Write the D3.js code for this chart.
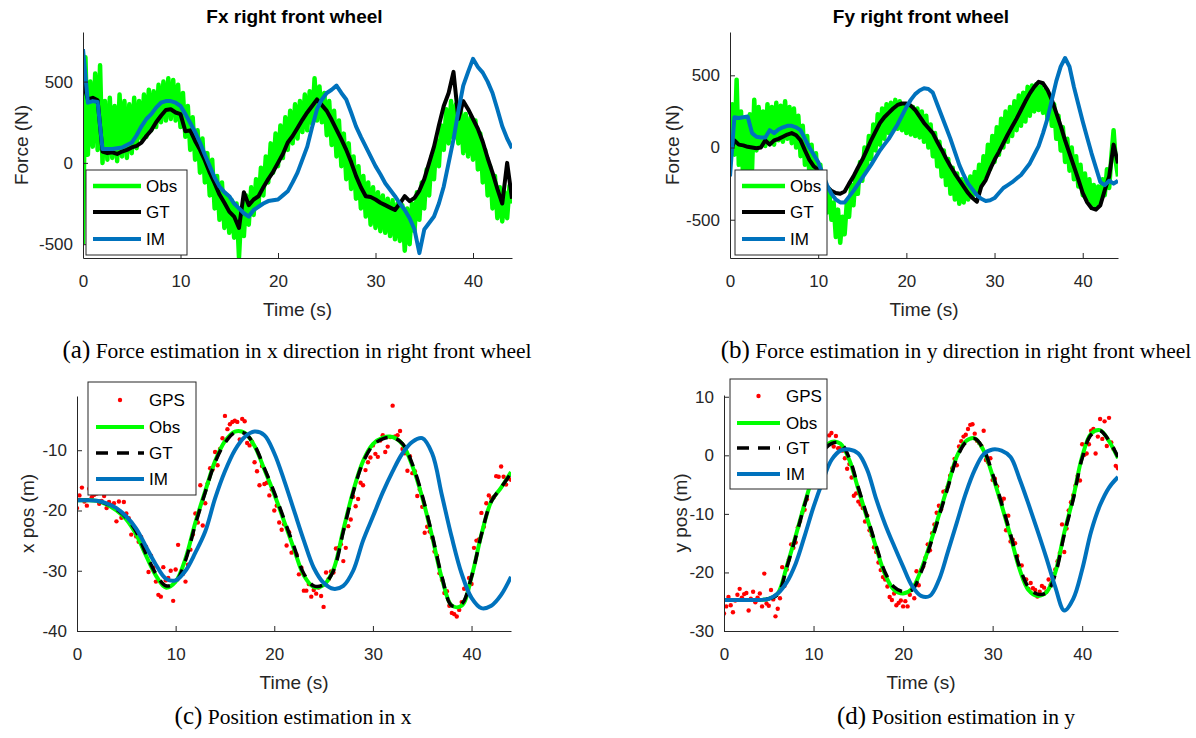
<!DOCTYPE html>
<html>
<head>
<meta charset="utf-8">
<script src="https://cdn.jsdelivr.net/npm/d3@7"></script>
<style>
  body { margin: 0; background: #fff; }
</style>
</head>
<body>
<svg id="fig" width="1196" height="738"></svg>
<script>
// ---- data ----
const tQuarter = d3.range(0, 44.001, 0.25);   // 177 samples
const tHalf = d3.range(0, 44.001, 0.5);       // 89 samples
const tSec = d3.range(0, 45, 1);              // 45 samples

const xTicks = [0, 10, 20, 30, 40];

// (a) Fx right front wheel
const fxObs = [
  -500, 650, 50, 500,   100, 550, 80, 600,    0, 380, 20, 400,     30, 350, 10, 420,
  40, 380, 30, 360,     60, 400, 90, 380,     150, 420, 160, 450,  200, 440, 220, 480,
  250, 500, 260, 520,   270, 510, 260, 480,   220, 430, 160, 350,  80, 280, 20, 200,
  -60, 150, -120, 60,   -200, 20, -280, -80,  -350, -120, -400, -200, -430, -230, -460, -250,
  -580, -280, -450, -200, -380, -150, -320, -100, -260, -30, -200, 40, -120, 120, -60, 180,
  -20, 230, 30, 280,    80, 320, 120, 360,    150, 380, 190, 420,  200, 440, 240, 520,
  260, 470, 250, 430,   170, 380, 110, 320,   40, 260, -20, 180,   -100, 120, -160, 40,
  -220, -20, -280, -80, -330, -120, -380, -150, -400, -180, -420, -200, -430, -220, -450, -230,
  -470, -250, -480, -260, -540, -280, -500, -250, -420, -180, -350, -120, -280, -40, -200, 40,
  -100, 140, -20, 230,  80, 330, 120, 380,    150, 360, 120, 330,  60, 300, 40, 280,
  20, 260, -40, 180,    -120, 80, -200, -20,  -280, -80, -340, -150, -360, -180, -340, -140,
  -250
];
const fxGT = [
  500, 390, 400, 385,   70, 60, 65, 55,       70, 80, 95, 105,     125, 165, 200, 250,
  290, 325, 330, 310,   300, 195, 200, 135,   80, 15, -60, -125,   -195, -245, -300, -330,
  -400, -180, -260, -225, -205, -150, -100, -55, 0, 55, 125, 165,  215, 265, 310, 350,
  390, 355, 320, 265,   205, 145, 80, 5,      -80, -150, -205, -210, -225, -245, -260, -275,
  -290, -250, -205, -235, -215, -170, -100, 0, 100, 230, 350, 430,  560, 270, 380, 330,
  270, 210, 130, 30,    -60, -160, -250, 0,   -220
];
const fxIM = [
  700, 370, 380, 375,   85, 85, 85, 90,       95, 110, 125, 170,   225, 270, 300, 340,
  370, 380, 380, 370,   350, 300, 245, 190,   125, 50, -20, -90,    -145, -180, -205, -250,
  -280, -310, -330, -290, -270, -250, -235, -230, -225, -200, -175, -120, -60, 20, 100, 220,
  330, 390, 430, 450,   475, 430, 390, 310,   225, 160, 100, 40,    -20, -70, -125, -165,
  -205, -250, -290, -340, -410, -555, -410, -370, -330, -250, -145, 0, 145, 320, 475, 560,
  640, 590, 555, 500,   430, 330, 225, 150,   90
];

// (b) Fy right front wheel
const fyObs = [
  -100, 300, -50, 470,  -120, 250, -250, 200, -200, 230, -150, 330, -20, 280, 20, 250,
  10, 300, 30, 280,     20, 310, 50, 290,     40, 320, 60, 280,     30, 270, 0, 220,
  -60, 150, -120, 80,   -180, 20, -220, -40,  -300, -120, -380, -220, -450, -300, -500, -380,
  -620, -430, -660, -480, -600, -380, -480, -260, -400, -180, -320, -100, -230, 0, -150, 80,
  -80, 160, -20, 230,   20, 270, 60, 300,     100, 310, 120, 330,   130, 320, 120, 300,
  100, 290, 90, 280,    80, 270, 70, 250,     40, 220, 0, 160,      -60, 100, -130, 40,
  -200, -20, -260, -80, -320, -140, -360, -180, -390, -220, -380, -230, -360, -200, -340, -170,
  -300, -120, -260, -60, -200, 20, -150, 80,  -100, 140, -50, 200,  0, 250, 40, 280,
  80, 320, 120, 360,    150, 380, 180, 420,   220, 430, 250, 440,   260, 420, 240, 400,
  200, 360, 150, 300,   60, 220, -20, 140,    -100, 60, -160, 0,    -220, -60, -270, -120,
  -330, -180, -360, -220, -400, -260, -410, -270, -380, -220, -330, -150, -280, -60, 120, -100,
  -200
];
const fyGT = [
  -50, 50, 20, 15,      5, 0, -5, 0,          50, 20, 50, 60,       75, 90, 100, 85,
  50, -20, -85, -130,   -155, -220, -270, -300, -315, -320, -305, -250, -200, -140, -85, -20,
  50, 110, 170, 210,    240, 270, 295, 305,   305, 290, 260, 215,   170, 135, 100, 40,
  -15, -75, -130, -180, -225, -270, -315, -350, -375, -270, -225, -150, -85, -30, 30, 90,
  145, 200, 260, 320,   375, 420, 455, 445,   400, 330, 240, 150,   50, -40, -130, -220,
  -315, -380, -420, -430, -400, -295, -200, 20, -110
];
const fyIM = [
  -200, 210, 205, 210,  215, 100, 75, 70,     70, 120, 100, 125,    140, 150, 150, 140,
  120, 60, 0, -50,      -100, -180, -260, -320, -360, -380, -380, -340, -300, -255, -210, -165,
  -120, -70, -20, 20,   60, 110, 160, 220,    280, 330, 370, 395,   410, 405, 380, 300,
  220, 140, 60, -30,    -120, -190, -250, -290, -330, -355, -370, -365, -350, -315, -280, -260,
  -240, -215, -190, -150, -110, -50, 10, 100, 200, 330, 460, 560,   620, 560, 420, 300,
  180, 70, -40, -140,   -240, -260, -230, -250, -230
];

// (c) Position in x
const xGPS = [
  -19.6, -17.5, -16.2, -18.5, -19.2, -16.4, -17.8, -17.4, -17.2, -18.9, -18.4, -17.6,
  -19.6, -18.6, -19.1, -18.8, -21.8, -18.5, -21.2, -18.6, -20.5, -21.3, -24, -22.8,
  -24.3, -25.2, -24.4, -25.8, -26, -30.2, -27.5, -29.5, -31.8, -34, -34.3, -29.4,
  -31.6, -31.2, -30, -35, -29.8, -25.7, -30.7, -30.5, -31.8, -29, -26.5, -24,
  -20.5, -22, -15.8, -22.5, -18.8, -15.5, -13, -13.2, -10.3, -12.5, -9.8, -8,
  -4.3, -6.5, -5.7, -5.3, -5.1, -5.3, -8.2, -4.8, -5.2, -8.8, -9.2, -8.6,
  -12, -13.5, -15.8, -12.6, -15.6, -15.4, -17.5, -16.5, -20, -19.2, -22, -23.2,
  -22.3, -25.8, -23.6, -27, -26.7, -27.3, -30.6, -29.5, -33.3, -33.3, -32.2, -34.3,
  -33.2, -33.8, -32.8, -34.2, -36, -30.3, -31.4, -30.1, -30.3, -26.3, -26.2, -25.6,
  -28.4, -26.2, -22.6, -21.5, -17.7, -19.3, -18.1, -15.4, -15.8, -13.3, -12, -11.2,
  -9.2, -10.6, -11.1, -8.4, -7.5, -10.3, -9.4, -7.8, -2.6, -7.7, -7.5, -6.8,
  -9.8, -10.5, -13.4, -11, -13.8, -13.5, -17.6, -16.5, -19.4, -23.7, -22.7, -23.5,
  -24.5, -26.8, -27.5, -30.4, -31.5, -33.7, -33.4, -35.8, -37, -37.2, -37.6, -36.5,
  -35.2, -33, -32.8, -31.2, -32.2, -26.2, -25, -24.8, -20.4, -22.7, -18.8, -17.5,
  -18, -17.8, -14.3, -14.4, -12.7, -14.4, -15.7, -14.7, -14.9
];
const xObs = [
  -18.3, -18.3, -18.4, -19, -20, -21.5, -24, -27.5, -30.8, -32.8, -31.8, -28, -22,
  -16.8, -11.8, -8.5, -6.9, -7.1, -9.3, -13.2, -17.3, -21.8, -26.4, -30.8, -32.7,
  -32.4, -29.8, -23.2, -16.8, -11.8, -9, -7.9, -7.8, -9, -12.6, -17.8, -24.3, -31.3,
  -35.8, -35.8, -31, -24, -18.5, -16.2, -13.6
];
const xGT = [
  -18.3, -18.3, -18.4, -18.9, -19.8, -21.2, -23.5, -27.2, -30.5, -32.5, -31.9, -28.3, -22.3,
  -17, -12, -8.8, -7.1, -7.2, -9.2, -13, -17, -21.5, -26, -30.5, -32.5,
  -32.3, -30, -23.5, -17, -12, -9.2, -8.1, -7.9, -8.9, -12.3, -17.5, -24, -31,
  -35.8, -35.5, -31, -24, -18.5, -16.2, -13.8
];
const xIM = [
  -18.3, -18.3, -18.4, -18.8, -19.6, -21, -23, -26, -29, -31.3, -31.6, -30, -27,
  -23.5, -18, -13.5, -10, -7.8, -6.9, -7.5, -10.5, -15, -20, -25, -29.5,
  -32, -33, -32.5, -30, -25, -21, -17, -13.5, -10.5, -8.6, -8, -10.5, -17.5,
  -24.5, -30.5, -34.5, -36.2, -35.8, -34, -31
];

// (d) Position in y
const yGPS = [
  -27, -25.8, -24.2, -25.6, -26.8, -24.8, -23.8, -22.8, -24.3, -23.7, -23.5, -26.5,
  -24.5, -23.3, -25.1, -24.3, -23.6, -25.8, -20.2, -25.3, -25.7, -23, -24.6, -27.5,
  -26.2, -24.4, -19.1, -22.3, -19.5, -17.8, -15.2, -15.8, -14.9, -12.3, -11.2, -9.8,
  -9.3, -7.5, -4.8, -5.2, -3.3, -1.3, -0.8, 1.3, 0.6, 2.5, 1.8, 3.4,
  3.8, 1.5, 3.3, 1.2, 1.2, 0.8, -0.5, -2.3, -1.5, -3.8, -6.9, -6.5,
  -7.9, -8.4, -9, -11.3, -10.3, -12.8, -13.6, -15.7, -16.5, -18.3, -19.6, -20.8,
  -21.2, -22.4, -24.2, -24.7, -23.6, -25.6, -25.2, -24.8, -25.8, -24.9, -25.8, -23.8,
  -22.8, -24.4, -19.8, -22.2, -19.6, -19, -17.5, -15.2, -16.2, -13.3, -11.8, -9.8,
  -8.6, -9.2, -6.2, -6.1, -5.3, -3.5, -2.2, -0.6, -1.7, 1.5, 2.4, 3.2,
  3.5, 4.5, 5.2, 5.3, 3.7, 2.5, 2.1, 1.6, 4.2, -0.8, -1.2, -0.5,
  -4.2, -4, -5.3, -7.1, -7.9, -7.4, -12.8, -10.3, -14.7, -14.4, -15, -17.2,
  -19, -18.8, -21.1, -21.2, -22.8, -21.8, -22.7, -23, -24.1, -23.3, -22.3, -22.6,
  -23.3, -21.2, -22, -20.3, -19.5, -18.1, -16.7, -11.8, -16.5, -12.5, -9.4, -8,
  -6.8, -5.2, -3.5, -4.3, 1.9, 0.1, 0.3, 1.9, 4.2, 4.5, 0.3, 3.2,
  6.2, 2.8, 5.8, 1.6, 6.4, 2.2, 1.1, -1.8, -2.2
];
const yObs = [
  -24.7, -24.7, -24.7, -24.7, -24.7, -24.5, -23.6, -19, -13.8, -8.3, -3.2, 0.8, 2.3,
  2, -0.8, -5.8, -10.8, -15.8, -20.4, -23, -23.6, -22.8, -19.6, -15.2, -10.2,
  -5.2, -0.2, 2.4, 2.9, 0.8, -3.5, -8.5, -13.8, -19.4, -23, -24, -23.4, -20,
  -13.2, -7.2, -0.2, 3.7, 4.3, 2.4, -0.5
];
const yGT = [
  -24.7, -24.7, -24.7, -24.7, -24.7, -24.5, -23.8, -19.2, -14, -8.5, -3.5, 0.5, 2,
  2.1, -0.5, -5.5, -10.5, -15.5, -20, -22.5, -23.3, -23, -20, -15.5, -10.5,
  -5.5, -0.5, 2.2, 2.85, 1, -3.2, -8.2, -13.5, -19, -22.5, -23.7, -23.5, -20.3,
  -13.5, -7.5, -0.5, 3.5, 4.2, 2.5, -0.3
];
const yIM = [
  -24.7, -24.7, -24.7, -24.7, -24.7, -24.5, -23.6, -21.7, -18.5, -13.8, -8.8, -4.5, -0.8,
  0.8, 1, 0.3, -2.5, -7.5, -11.8, -15.5, -19, -22.3, -24, -24, -21.3,
  -16.5, -11.5, -6.5, -2.5, 0.2, 1, 0.8, -0.3, -4, -8.3, -12.8, -17.5, -22.5,
  -26.5, -24.5, -19.5, -13, -8.5, -5.5, -3.7
];

// ---- drawing ----
const svg = d3.select('#fig');
const sans = '"Liberation Sans", Arial, Helvetica, sans-serif';
const serif = '"Liberation Serif", "Times New Roman", serif';
const axisColor = '#262626';
const GREEN = '#00ff00', BLACK = '#000000', BLUE = '#0072bd', RED = '#ff0000';

svg.append('rect').attr('width', 1196).attr('height', 738).attr('fill', '#fff');

function drawPanel(p) {
  const x = d3.scaleLinear().domain([0, 44]).range([p.left, p.right]);
  const y = d3.scaleLinear().domain(p.yDomain).range([p.bottom, p.top]);
  const g = svg.append('g');

  g.append('clipPath').attr('id', 'clip-' + p.id)
    .append('rect')
    .attr('x', p.left).attr('y', p.top)
    .attr('width', p.right - p.left).attr('height', p.bottom - p.top);

  const plot = g.append('g').attr('clip-path', `url(#clip-${p.id})`);

  p.series.forEach(s => {
    if (s.type === 'dots') {
      plot.append('g').selectAll('circle')
        .data(s.values)
        .join('circle')
        .attr('cx', (d, i) => x(s.t[i]))
        .attr('cy', d => y(d))
        .attr('r', 2.2)
        .attr('fill', s.color);
    } else {
      const line = d3.line()
        .x((d, i) => x(s.t[i]))
        .y(d => y(d))
        .curve(s.curve || d3.curveLinear);
      plot.append('path')
        .datum(s.values)
        .attr('d', line)
        .attr('fill', 'none')
        .attr('stroke', s.color)
        .attr('stroke-width', s.width || 4)
        .attr('stroke-linejoin', 'round')
        .attr('stroke-dasharray', s.dash || null);
    }
  });

  // axes, ticks pointing inward like matlab
  const xAxis = g.append('g')
    .attr('transform', `translate(0,${p.bottom})`)
    .call(d3.axisBottom(x).tickValues(xTicks).tickFormat(d => String(d))
      .tickSizeInner(-5).tickSizeOuter(0).tickPadding(17));
  const yAxis = g.append('g')
    .attr('transform', `translate(${p.left},0)`)
    .call(d3.axisLeft(y).tickValues(p.yTicks).tickFormat(d => String(d))
      .tickSizeInner(-5).tickSizeOuter(0).tickPadding(10));

  [xAxis, yAxis].forEach(a => {
    a.select('.domain').attr('stroke', axisColor).attr('stroke-width', 1);
    a.selectAll('.tick line').attr('stroke', axisColor).attr('stroke-width', 1);
    a.selectAll('.tick text')
      .attr('fill', axisColor)
      .style('font-family', sans)
      .style('font-size', '17px');
  });

  if (p.title) {
    g.append('text')
      .attr('x', (p.left + p.right) / 2 - 3).attr('y', 23)
      .attr('text-anchor', 'middle')
      .style('font-family', sans).style('font-size', '19px').style('font-weight', 'bold')
      .attr('fill', '#000')
      .text(p.title);
  }

  g.append('text')
    .attr('x', (p.left + p.right) / 2).attr('y', p.bottom + 58)
    .attr('text-anchor', 'middle')
    .style('font-family', sans).style('font-size', '19px')
    .attr('fill', axisColor)
    .text('Time (s)');

  g.append('text')
    .attr('transform', `translate(${p.yLabelX},${(p.top + p.bottom) / 2}) rotate(-90)`)
    .attr('text-anchor', 'middle')
    .attr('dy', '0.35em')
    .style('font-family', sans).style('font-size', '19px')
    .attr('fill', axisColor)
    .text(p.yLabel);

  // legend
  const L = p.legend;
  const lg = g.append('g');
  lg.append('rect')
    .attr('x', L.x0).attr('y', L.y0)
    .attr('width', L.x1 - L.x0).attr('height', L.y1 - L.y0)
    .attr('fill', '#fff').attr('stroke', axisColor).attr('stroke-width', 1);
  p.series.forEach((s, i) => {
    const cy = L.rows[i];
    if (s.type === 'dots') {
      lg.append('circle')
        .attr('cx', (L.s0 + L.s1) / 2).attr('cy', cy).attr('r', 2.2).attr('fill', s.color);
    } else {
      lg.append('line')
        .attr('x1', L.s0).attr('x2', L.s1).attr('y1', cy).attr('y2', cy)
        .attr('stroke', s.color).attr('stroke-width', s.width || 4)
        .attr('stroke-dasharray', s.dash || null);
    }
    lg.append('text')
      .attr('x', L.tx).attr('y', cy).attr('dy', '0.35em')
      .style('font-family', sans).style('font-size', '17px')
      .attr('fill', '#000')
      .text(s.name);
  });

  // caption under the panel
  const cap = svg.append('text')
    .attr('x', p.capX).attr('y', p.capY)
    .attr('text-anchor', 'middle')
    .style('font-family', serif).attr('fill', '#000');
  cap.append('tspan').style('font-size', '25px').text(p.capTag);
  cap.append('tspan').style('font-size', '21.5px').text(' ' + p.caption);
}

drawPanel({
  id: 'a', left: 83, right: 512, top: 32, bottom: 258,
  yDomain: [-585, 805], yTicks: [-500, 0, 500],
  title: 'Fx right front wheel', yLabel: 'Force (N)', yLabelX: 21,
  series: [
    { name: 'Obs', t: tQuarter, values: fxObs, color: GREEN, width: 4.5 },
    { name: 'GT', t: tHalf, values: fxGT, color: BLACK, width: 4 },
    { name: 'IM', t: tHalf, values: fxIM, color: BLUE, width: 4 }
  ],
  legend: { x0: 86, x1: 187, y0: 170, y1: 255, rows: [186, 212, 239], s0: 93, s1: 141, tx: 146 },
  capX: 297, capY: 358, capTag: '(a)', caption: 'Force estimation in x direction in right front wheel'
});

drawPanel({
  id: 'b', left: 730, right: 1118, top: 32, bottom: 258,
  yDomain: [-765, 800], yTicks: [-500, 0, 500],
  title: 'Fy right front wheel', yLabel: 'Force (N)', yLabelX: 672,
  series: [
    { name: 'Obs', t: tQuarter, values: fyObs, color: GREEN, width: 4.5 },
    { name: 'GT', t: tHalf, values: fyGT, color: BLACK, width: 4 },
    { name: 'IM', t: tHalf, values: fyIM, color: BLUE, width: 4 }
  ],
  legend: { x0: 735, x1: 827, y0: 170, y1: 255, rows: [186, 212, 239], s0: 742, s1: 785, tx: 790 },
  capX: 956, capY: 358, capTag: '(b)', caption: 'Force estimation in y direction in right front wheel'
});

drawPanel({
  id: 'c', left: 77, right: 511, top: 396, bottom: 631,
  yDomain: [-40, -1], yTicks: [-40, -30, -20, -10],
  yLabel: 'x pos (m)', yLabelX: 27,
  series: [
    { name: 'GPS', type: 'dots', t: tQuarter, values: xGPS, color: RED },
    { name: 'Obs', t: tSec, values: xObs, color: GREEN, width: 4, curve: d3.curveCatmullRom },
    { name: 'GT', t: tSec, values: xGT, color: BLACK, width: 3.5, dash: '12,9', curve: d3.curveCatmullRom },
    { name: 'IM', t: tSec, values: xIM, color: BLUE, width: 4, curve: d3.curveCatmullRom }
  ],
  legend: { x0: 88, x1: 196, y0: 382, y1: 495, rows: [400, 427, 453, 479], s0: 96, s1: 144, tx: 149 },
  capX: 293, capY: 724, capTag: '(c)', caption: 'Position estimation in x'
});

drawPanel({
  id: 'd', left: 724, right: 1118, top: 395, bottom: 631,
  yDomain: [-30, 10.3], yTicks: [-30, -20, -10, 0, 10],
  yLabel: 'y pos (m)', yLabelX: 680,
  series: [
    { name: 'GPS', type: 'dots', t: tQuarter, values: yGPS, color: RED },
    { name: 'Obs', t: tSec, values: yObs, color: GREEN, width: 4, curve: d3.curveCatmullRom },
    { name: 'GT', t: tSec, values: yGT, color: BLACK, width: 3.5, dash: '12,9', curve: d3.curveCatmullRom },
    { name: 'IM', t: tSec, values: yIM, color: BLUE, width: 4, curve: d3.curveCatmullRom }
  ],
  legend: { x0: 730, x1: 827, y0: 379, y1: 489, rows: [396, 423, 448, 474], s0: 737, s1: 780, tx: 786 },
  capX: 956, capY: 724, capTag: '(d)', caption: 'Position estimation in y'
});
</script>
</body>
</html>
